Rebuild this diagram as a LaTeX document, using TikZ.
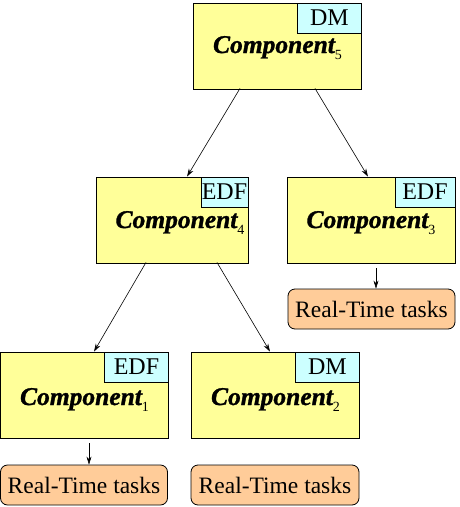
\documentclass[tikz,border=0pt]{standalone}
\usepackage{fontspec}
\setmainfont{Liberation Serif}
\newfontfamily\compfont[BoldItalicFeatures={FakeBold=1.2}]{Liberation Serif}
\usetikzlibrary{arrows.meta}
\definecolor{compyellow}{HTML}{FFFF99}
\definecolor{tagcyan}{HTML}{CCFFFF}
\definecolor{taskorange}{HTML}{FFCC99}
\tikzset{
  comp/.style={draw, line width=0.8pt, fill=compyellow, minimum width=168pt, minimum height=86pt, inner sep=0pt},
  compnarrow/.style={comp, minimum width=152pt},
  tagbox/.style={draw, line width=0.8pt, fill=tagcyan, minimum width=64pt, minimum height=30pt, inner sep=0pt, anchor=north east, font=\fontsize{24}{26}\selectfont},
  taskbox/.style={draw, line width=0.8pt, fill=taskorange, rounded corners=7pt, minimum width=167pt, minimum height=40pt, inner sep=0pt, font=\fontsize{23.5}{25}\selectfont},
  ctext/.style={font=\fontsize{25.5}{27}\selectfont, anchor=base, inner sep=0pt},
  conn/.style={line width=0.6pt, -{Stealth[length=8pt,width=5pt]}}
}
\newcommand{\comptext}[1]{{\compfont\bfseries\itshape Component}\raisebox{-6pt}{\fontsize{14}{15}\selectfont #1}}
\begin{document}
\begin{tikzpicture}[x=1pt,y=-1pt]
\useasboundingbox (0,0) rectangle (459,507);
% components
\node[comp] (c5) at (277.5,46) {};
\node[ctext] (t5) at (277.5,53) {\comptext{5}};
\node[tagbox] (g5) at (c5.north east) {DM};

\node[compnarrow] (c4) at (172,220) {};
\node[ctext] (t4) at (180,228) {\comptext{4}};
\node[tagbox, minimum width=47pt] (g4) at (c4.north east) {EDF};

\node[comp] (c3) at (371,220) {};
\node[ctext] (t3) at (371,228) {\comptext{3}};
\node[tagbox, minimum width=60pt] (g3) at (c3.north east) {EDF};

\node[comp] (c1) at (84.5,395) {};
\node[ctext] (t1) at (84.5,405) {\comptext{1}};
\node[tagbox] (g1) at (c1.north east) {EDF};

\node[comp] (c2) at (275.5,395) {};
\node[ctext] (t2) at (275.5,405) {\comptext{2}};
\node[tagbox] (g2) at (c2.north east) {DM};

% tasks
\node[taskbox] (r3) at (371.5,309) {Real-Time tasks};
\node[taskbox] (r1) at (84,485) {Real-Time tasks};
\node[taskbox, minimum width=168pt] (r2) at (275,485) {Real-Time tasks};

% connectors
\draw[conn] ([xshift=-37.5pt,yshift=1pt]c5.south) -- ([xshift=15pt]c4.north);
\draw[conn] ([xshift=37.5pt,yshift=1pt]c5.south) -- ([xshift=-3pt]c3.north);
\draw[conn] ([xshift=-26pt,yshift=1pt]c4.south) -- ([xshift=9.5pt]c1.north);
\draw[conn] ([xshift=45pt,yshift=1pt]c4.south) -- ([xshift=-5.5pt]c2.north);
\draw[conn] ([xshift=4.5pt,yshift=-5pt]c1.south) -- ([xshift=5pt]r1.north);
\draw[conn] ([xshift=5pt,yshift=-5pt]c3.south) -- ([xshift=4.5pt]r3.north);
\end{tikzpicture}
\end{document}
